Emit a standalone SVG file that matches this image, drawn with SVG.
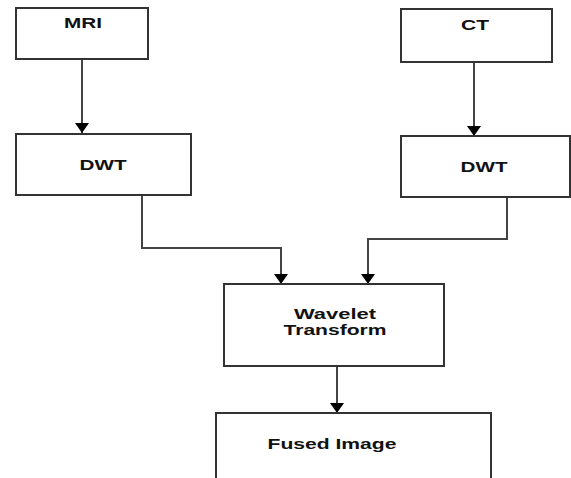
<svg xmlns="http://www.w3.org/2000/svg" width="571" height="478" viewBox="0 0 571 478">
<defs>
<style>
.box{fill:#fff;stroke:#333;stroke-width:2}
.lbl{font-family:"Liberation Sans",Arial,sans-serif;font-weight:bold;font-size:15px;fill:#111;text-anchor:middle}
.con{fill:none;stroke:#444;stroke-width:2}
</style>
<marker id="ah" markerWidth="10" markerHeight="14" refX="10" refY="7" orient="auto" markerUnits="userSpaceOnUse">
<path d="M0,0 L10,7 L0,14 Z" fill="#000"/>
</marker>
</defs>
<rect width="571" height="478" fill="#fff"/>
<g id="connectors">
<path class="con" d="M82,59 V133" marker-end="url(#ah)"/>
<path class="con" d="M474,62 V136" marker-end="url(#ah)"/>
<path class="con" d="M142,195 V248 H281 V284" marker-end="url(#ah)"/>
<path class="con" d="M507,197 V239 H368 V284" marker-end="url(#ah)"/>
<path class="con" d="M337,366 V413" marker-end="url(#ah)"/>
</g>
<g id="mri">
<rect class="box" x="16" y="8" width="132" height="51"/>
<text class="lbl" x="83" y="28" textLength="38" lengthAdjust="spacingAndGlyphs">MRI</text>
</g>
<g id="ct">
<rect class="box" x="401" y="9" width="151" height="53"/>
<text class="lbl" x="475" y="30" textLength="28" lengthAdjust="spacingAndGlyphs">CT</text>
</g>
<g id="dwt-left">
<rect class="box" x="16" y="134" width="175" height="61"/>
<text class="lbl" x="103" y="170" textLength="47" lengthAdjust="spacingAndGlyphs">DWT</text>
</g>
<g id="dwt-right">
<rect class="box" x="401" y="136" width="169" height="61"/>
<text class="lbl" x="484" y="172" textLength="47" lengthAdjust="spacingAndGlyphs">DWT</text>
</g>
<g id="wavelet">
<rect class="box" x="224" y="284" width="220" height="82"/>
<text class="lbl" x="335" y="319" textLength="82" lengthAdjust="spacingAndGlyphs">Wavelet</text>
<text class="lbl" x="335" y="335" textLength="103" lengthAdjust="spacingAndGlyphs">Transform</text>
</g>
<g id="fused">
<rect class="box" x="216" y="413" width="275" height="80"/>
<text class="lbl" x="332" y="449" textLength="129" lengthAdjust="spacingAndGlyphs">Fused Image</text>
</g>
</svg>
